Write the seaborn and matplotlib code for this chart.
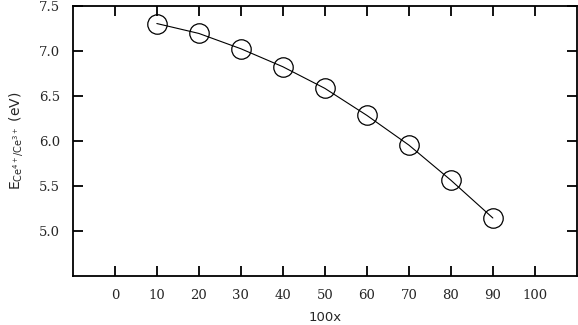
import matplotlib
matplotlib.use("Agg")
import matplotlib.pyplot as plt
import seaborn as sns
import pandas as pd

x_vals = [10, 20, 30, 40, 50, 60, 70, 80, 90]
e_vals = [7.30, 7.19, 7.02, 6.82, 6.58, 6.28, 5.95, 5.56, 5.14]
x_ticks = [0, 10, 20, 30, 40, 50, 60, 70, 80, 90, 100]
y_ticks = [5.0, 5.5, 6.0, 6.5, 7.0, 7.5]

sns.set_theme(style="white")
plt.rcParams['font.family'] = ['DejaVu Sans']
plt.rcParams['mathtext.fontset'] = 'dejavusans'

df = pd.DataFrame({"x": x_vals, "E": e_vals})

fig = plt.figure(figsize=(5.78, 3.25), dpi=100)
ax = fig.add_axes([0.126, 0.152, 0.872, 0.831])
sns.lineplot(data=df, x="x", y="E", ax=ax, color="black", linewidth=0.8,
             marker="o", markersize=14, markerfacecolor="none",
             markeredgecolor="black", markeredgewidth=0.9)

ax.set_xlim(-10, 110)
ax.set_ylim(4.5, 7.5)
ax.set_xticks(x_ticks)
ax.set_yticks(y_ticks)
ax.set_xticklabels([str(t) for t in x_ticks], fontfamily="DejaVu Serif", fontsize=9.5)
ax.set_yticklabels([f"{t:.1f}" for t in y_ticks], fontfamily="DejaVu Serif", fontsize=9.5)
ax.tick_params(direction="in", length=7, width=1.3, color="black",
               top=True, right=True, bottom=True, left=True)
ax.tick_params(axis="x", pad=10)
ax.tick_params(axis="y", pad=9)
for s in ax.spines.values():
    s.set_color("black")
    s.set_linewidth(1.3)

ax.set_xlabel("100x", fontsize=9.5, labelpad=6)
ax.set_ylabel(r"E$_{\mathrm{Ce}^{4+}/\mathrm{Ce}^{3+}}$ (eV)", fontsize=10, labelpad=10)

fig.savefig("out.png", dpi=100)
